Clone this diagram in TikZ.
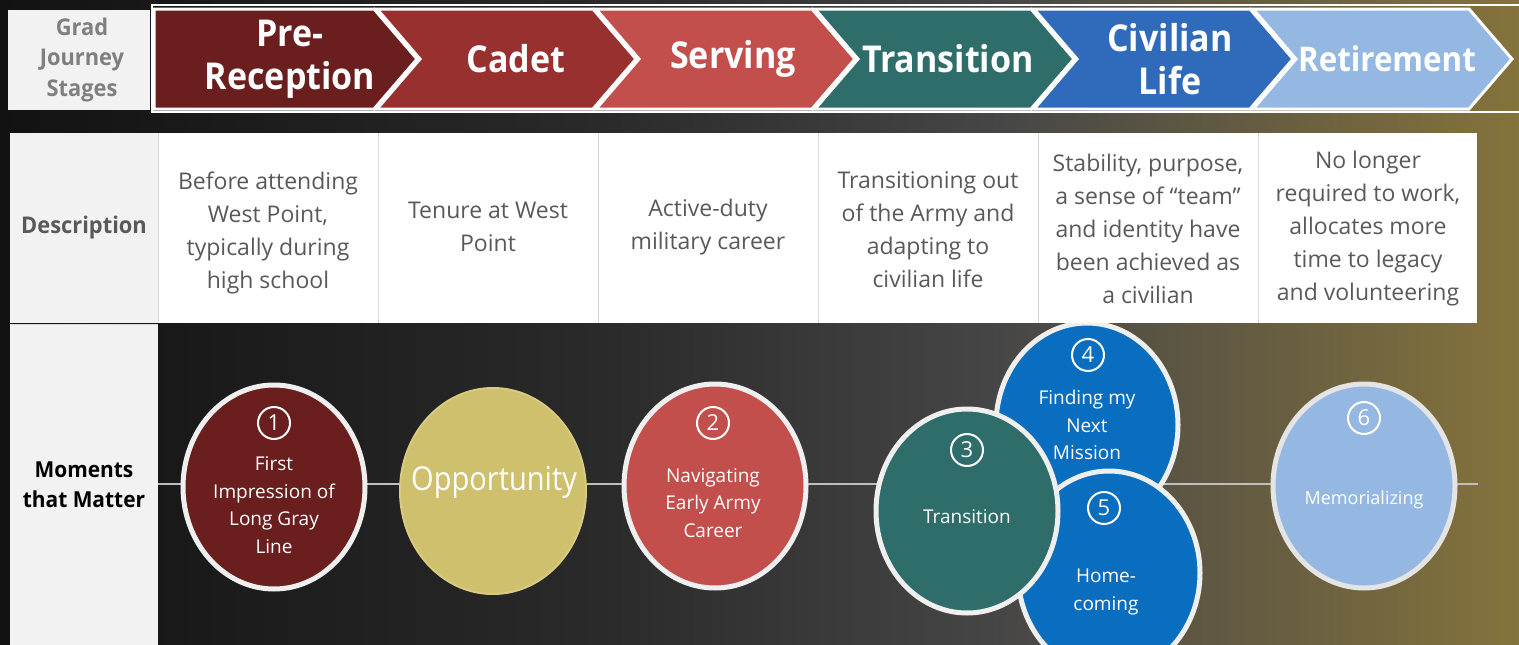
\documentclass[tikz,border=0pt]{standalone}
\usepackage{fontspec}
\setmainfont{Open Sans}
\newfontfamily\hdfont[FakeStretch=0.92]{Open Sans}
\newfontfamily\oppfont[FakeStretch=0.88]{Open Sans}
\newfontfamily\labfont[FakeStretch=0.95]{Open Sans}
\usetikzlibrary{shapes.geometric,calc}
\definecolor{bgA}{HTML}{121212}
\definecolor{bgB}{HTML}{2A2A2A}
\definecolor{bgC}{HTML}{464646}
\definecolor{bgD}{HTML}{85733C}
\definecolor{cPre}{HTML}{6B1E1E}
\definecolor{cCadet}{HTML}{993030}
\definecolor{cServ}{HTML}{C34F4C}
\definecolor{cTrans}{HTML}{2E6D69}
\definecolor{cCiv}{HTML}{2F6ABB}
\definecolor{cRet}{HTML}{95B8E3}
\definecolor{cOpp}{HTML}{CFC06D}
\definecolor{cOppB}{HTML}{D8CB80}
\definecolor{cBlue}{HTML}{0A6EC0}
\definecolor{cLab}{HTML}{F2F2F2}
\definecolor{cDiv}{HTML}{D9D9D9}
\definecolor{cDesc}{HTML}{595959}
\definecolor{cGrad}{HTML}{7F7F7F}
\definecolor{cRing}{HTML}{EFEFEF}
\definecolor{cLine}{HTML}{BFBFBF}
\begin{document}
\begin{tikzpicture}[x=1pt,y=-1pt,
  chev/.style={draw=white,line width=3pt,line join=miter},
  stage/.style={text=white,align=center,inner sep=0pt,font=\hdfont\bfseries\fontsize{37}{43}\selectfont},
  lab/.style={align=center,inner sep=0pt,font=\labfont\bfseries\fontsize{23}{30.5}\selectfont},
  desc/.style={text=cDesc,align=center,inner sep=0pt,font=\fontsize{23}{33}\selectfont},
  moment/.style={ellipse,minimum width=182pt,minimum height=204pt,inner sep=0pt,draw=cRing,line width=5pt},
  numc/.style={circle,draw=white,line width=2pt,minimum size=32pt,inner sep=0pt,text=white,font=\fontsize{22}{22}\selectfont},
  mtext/.style={text=white,align=center,inner sep=0pt,font=\fontsize{19}{27.5}\selectfont}]
\useasboundingbox (0,0) rectangle (1519,645);
% background
\fill[left color=bgA,right color=bgB] (0,0) rectangle (601,645);
\fill[left color=bgB,right color=bgC] (600,0) rectangle (1001,645);
\fill[left color=bgC,right color=bgD] (1000,0) rectangle (1519,645);
% header row
\fill[cLab] (8,10) rectangle (150,110);
\node[lab,text=cGrad] (hlab) at (82,60) {Grad\\Journey\\Stages};
\draw[white,line width=2.5pt] (152,5) rectangle (1535,112);
\fill[cPre,chev] (154,9) -- (374,9) -- (417,59) -- (374,109) -- (154,109) -- cycle;
\fill[cCadet,chev] (377,9) -- (593,9) -- (636,59) -- (593,109) -- (377,109) -- (420,59) -- cycle;
\fill[cServ,chev] (596,9) -- (812,9) -- (855,59) -- (812,109) -- (596,109) -- (639,59) -- cycle;
\fill[cTrans,chev] (815,9) -- (1031,9) -- (1074,59) -- (1031,109) -- (815,109) -- (858,59) -- cycle;
\fill[cCiv,chev] (1034,9) -- (1250,9) -- (1293,59) -- (1250,109) -- (1034,109) -- (1077,59) -- cycle;
\fill[cRet,chev] (1253,9) -- (1469,9) -- (1512,59) -- (1469,109) -- (1253,109) -- (1296,59) -- cycle;
\node[stage] (s1) at (290,59) {Pre-\\Reception};
\node[stage] (s2) at (516,59) {Cadet};
\node[stage] (s3) at (733,59) {Serving};
\node[stage] (s4) at (948,59) {Transition};
\node[stage] (s5) at (1170,59) {Civilian\\Life};
\node[stage,font=\hdfont\bfseries\fontsize{34}{40}\selectfont] (s6) at (1387,59) {Retirement};
% moments row label
\fill[cLab] (10,325) rectangle (158,645);
\node[lab,text=black,font=\labfont\bfseries\fontsize{22}{30}\selectfont] (mlab) at (84,485) {Moments\\that Matter};
% timeline
\coordinate (tlL) at (158,484);
\coordinate (tlR) at (1478,484);
\draw[cLine,line width=2.5pt] (tlL) -- (tlR);
% moments
\node[moment,fill=cPre] (c1) at (274,487) {};
\node[numc] (n1) at (274,423) {1};
\node[mtext] (t1) at (274,505) {First\\Impression of\\Long Gray\\Line};
\node[moment,fill=cOpp,draw=cOppB,line width=2pt,minimum width=186pt,minimum height=206pt] (co) at (493,491) {};
\node[text=white,inner sep=0pt,font=\oppfont\fontsize{33}{33}\selectfont] (to) at (494,482) {Opportunity};
\node[moment,fill=cServ] (c2) at (715,486) {};
\node[numc] (n2) at (713,423) {2};
\node[mtext] (t2) at (713,503) {Navigating\\Early Army\\Career};
\node[moment,fill=cBlue] (c4) at (1087,425) {};
\node[numc] (n4) at (1088,355) {4};
\node[mtext] (t4) at (1087,425) {Finding my\\Next\\Mission};
\node[moment,fill=cBlue] (c5) at (1109,573) {};
\node[numc] (n5) at (1104,508) {5};
\node[mtext] (t5) at (1106,592) {Home-\\coming};
\node[moment,fill=cTrans] (c3) at (967,511) {};
\node[numc] (n3) at (967,450) {3};
\node[mtext] (t3) at (967,517) {Transition};
\node[moment,fill=cRet,draw=cRing!90!gray] (c6) at (1364,486) {};
\node[numc] (n6) at (1364,418) {6};
\node[mtext,font=\fontsize{18}{24}\selectfont] (t6) at (1364,500) {Memorializing};
% description row
\fill[cLab] (10,133) rectangle (158,323);
\fill[white] (158,133) rectangle (1477,323);
\draw[cDiv,line width=1pt] (158,133) -- (158,323);
\draw[cDiv,line width=1pt] (10,324) -- (158,324);
\foreach \xx in {378,598,818,1038,1258} \draw[cDiv,line width=1pt] (\xx,133) -- (\xx,323);
\node[lab,text=cDesc,font=\labfont\bfseries\fontsize{23}{30}\selectfont] (dlab) at (84,228) {Description};
\node[desc] (d1) at (268,233) {Before attending\\West Point,\\typically during\\high school};
\node[desc] (d2) at (488,227) {Tenure at West\\Point};
\node[desc] (d3) at (708,227) {Active-duty\\military career};
\node[desc] (d4) at (928,230) {Transitioning out\\of the Army and\\adapting to\\civilian life};
\node[desc] (d5) at (1148,229) {Stability, purpose,\\a sense of “team”\\and identity have\\been achieved as\\a civilian};
\node[desc] (d6) at (1368,229) {No longer\\required to work,\\allocates more\\time to legacy\\and volunteering};
\end{tikzpicture}
\end{document}
